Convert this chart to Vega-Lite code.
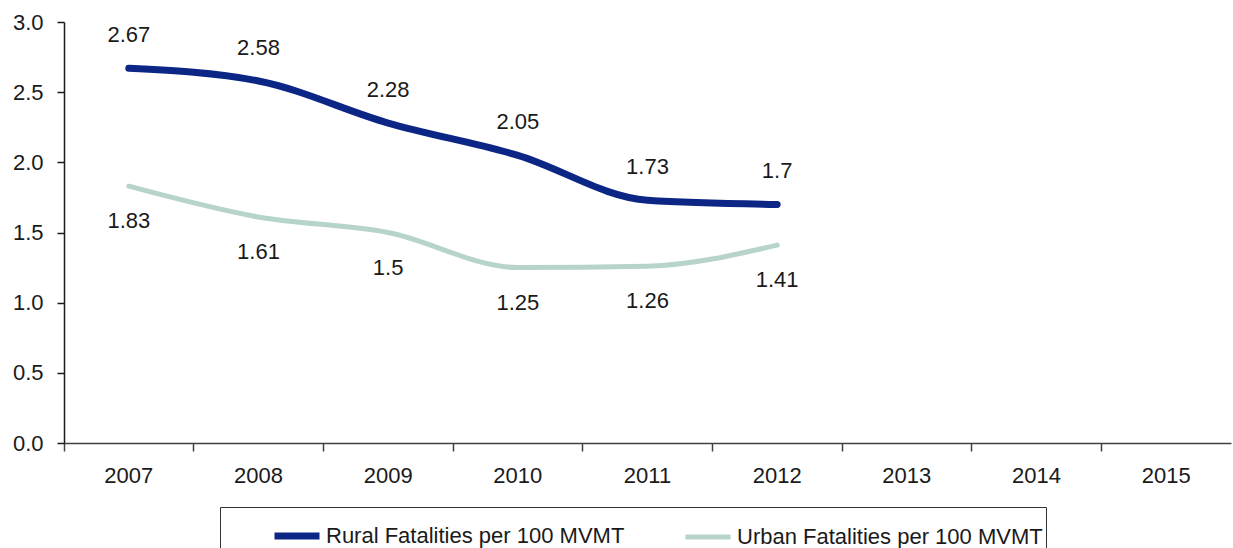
{
  "$schema": "https://vega.github.io/schema/vega-lite/v6.json",
  "width": 1167,
  "height": 421,
  "autosize": "none",
  "padding": {"left": 64, "top": 22, "right": 2, "bottom": 105},
  "config": {
    "view": {"stroke": null},
    "font": "Liberation Sans",
    "text": {"font": "Liberation Sans"}
  },
  "data": {
    "values": [
      {"year": "2007", "series": "Rural Fatalities per 100 MVMT", "value": 2.67},
      {"year": "2008", "series": "Rural Fatalities per 100 MVMT", "value": 2.58},
      {"year": "2009", "series": "Rural Fatalities per 100 MVMT", "value": 2.28},
      {"year": "2010", "series": "Rural Fatalities per 100 MVMT", "value": 2.05},
      {"year": "2011", "series": "Rural Fatalities per 100 MVMT", "value": 1.73},
      {"year": "2012", "series": "Rural Fatalities per 100 MVMT", "value": 1.7},
      {"year": "2007", "series": "Urban Fatalities per 100 MVMT", "value": 1.83},
      {"year": "2008", "series": "Urban Fatalities per 100 MVMT", "value": 1.61},
      {"year": "2009", "series": "Urban Fatalities per 100 MVMT", "value": 1.5},
      {"year": "2010", "series": "Urban Fatalities per 100 MVMT", "value": 1.25},
      {"year": "2011", "series": "Urban Fatalities per 100 MVMT", "value": 1.26},
      {"year": "2012", "series": "Urban Fatalities per 100 MVMT", "value": 1.41}
    ]
  },
  "encoding": {
    "x": {
      "field": "year",
      "type": "ordinal",
      "bandPosition": 0.5,
      "scale": {
        "type": "band",
        "domain": ["2007", "2008", "2009", "2010", "2011", "2012", "2013", "2014", "2015"],
        "paddingInner": 0,
        "paddingOuter": 0
      },
      "axis": {
        "title": null,
        "labelAngle": 0,
        "bandPosition": 0,
        "labelFontSize": 22,
        "labelColor": "#1a1a1a",
        "labelPadding": 14,
        "tickSize": 8,
        "tickColor": "#404040",
        "domainColor": "#404040",
        "tickWidth": 1.5,
        "domainWidth": 1.5
      }
    },
    "y": {
      "field": "value",
      "type": "quantitative",
      "scale": {"domain": [0, 3], "nice": false},
      "axis": {
        "title": null,
        "values": [0, 0.5, 1, 1.5, 2, 2.5, 3],
        "format": ".1f",
        "grid": false,
        "labelFontSize": 22,
        "labelColor": "#1a1a1a",
        "labelPadding": 14,
        "tickSize": 7,
        "tickColor": "#1a1a1a",
        "domainColor": "#1a1a1a",
        "tickWidth": 1.5,
        "domainWidth": 1.5
      }
    }
  },
  "layer": [
    {
      "mark": {"type": "line", "interpolate": "monotone", "strokeCap": "round"},
      "encoding": {
        "color": {
          "field": "series",
          "type": "nominal",
          "scale": {"range": ["#0c2686", "#b6d4c8"]},
          "legend": {
            "title": "\u00a0",
            "titleOrient": "left",
            "titleBaseline": "top",
            "titlePadding": 48,
            "titleFontSize": 1,
            "orient": "none",
            "legendX": 156,
            "legendY": 485,
            "direction": "horizontal",
            "columns": 2,
            "symbolType": "stroke",
            "symbolSize": 2025,
            "symbolStrokeWidth": 7,
            "labelOffset": 3,
            "labelFontSize": 22,
            "labelColor": "#1a1a1a",
            "labelLimit": 400,
            "columnPadding": 50,
            "padding": 3,
            "strokeColor": "#333333",
            "fillColor": "white"
          }
        },
        "strokeWidth": {
          "field": "series",
          "type": "nominal",
          "scale": {"range": [7, 5]},
          "legend": null
        }
      }
    },
    {
      "transform": [{"filter": "datum.series == 'Rural Fatalities per 100 MVMT'"}],
      "mark": {"type": "text", "dy": -33, "fontSize": 22, "color": "#1a1a1a"},
      "encoding": {"text": {"field": "value", "type": "quantitative"}}
    },
    {
      "transform": [{"filter": "datum.series == 'Urban Fatalities per 100 MVMT'"}],
      "mark": {"type": "text", "dy": 35, "fontSize": 22, "color": "#1a1a1a"},
      "encoding": {"text": {"field": "value", "type": "quantitative"}}
    }
  ]
}
